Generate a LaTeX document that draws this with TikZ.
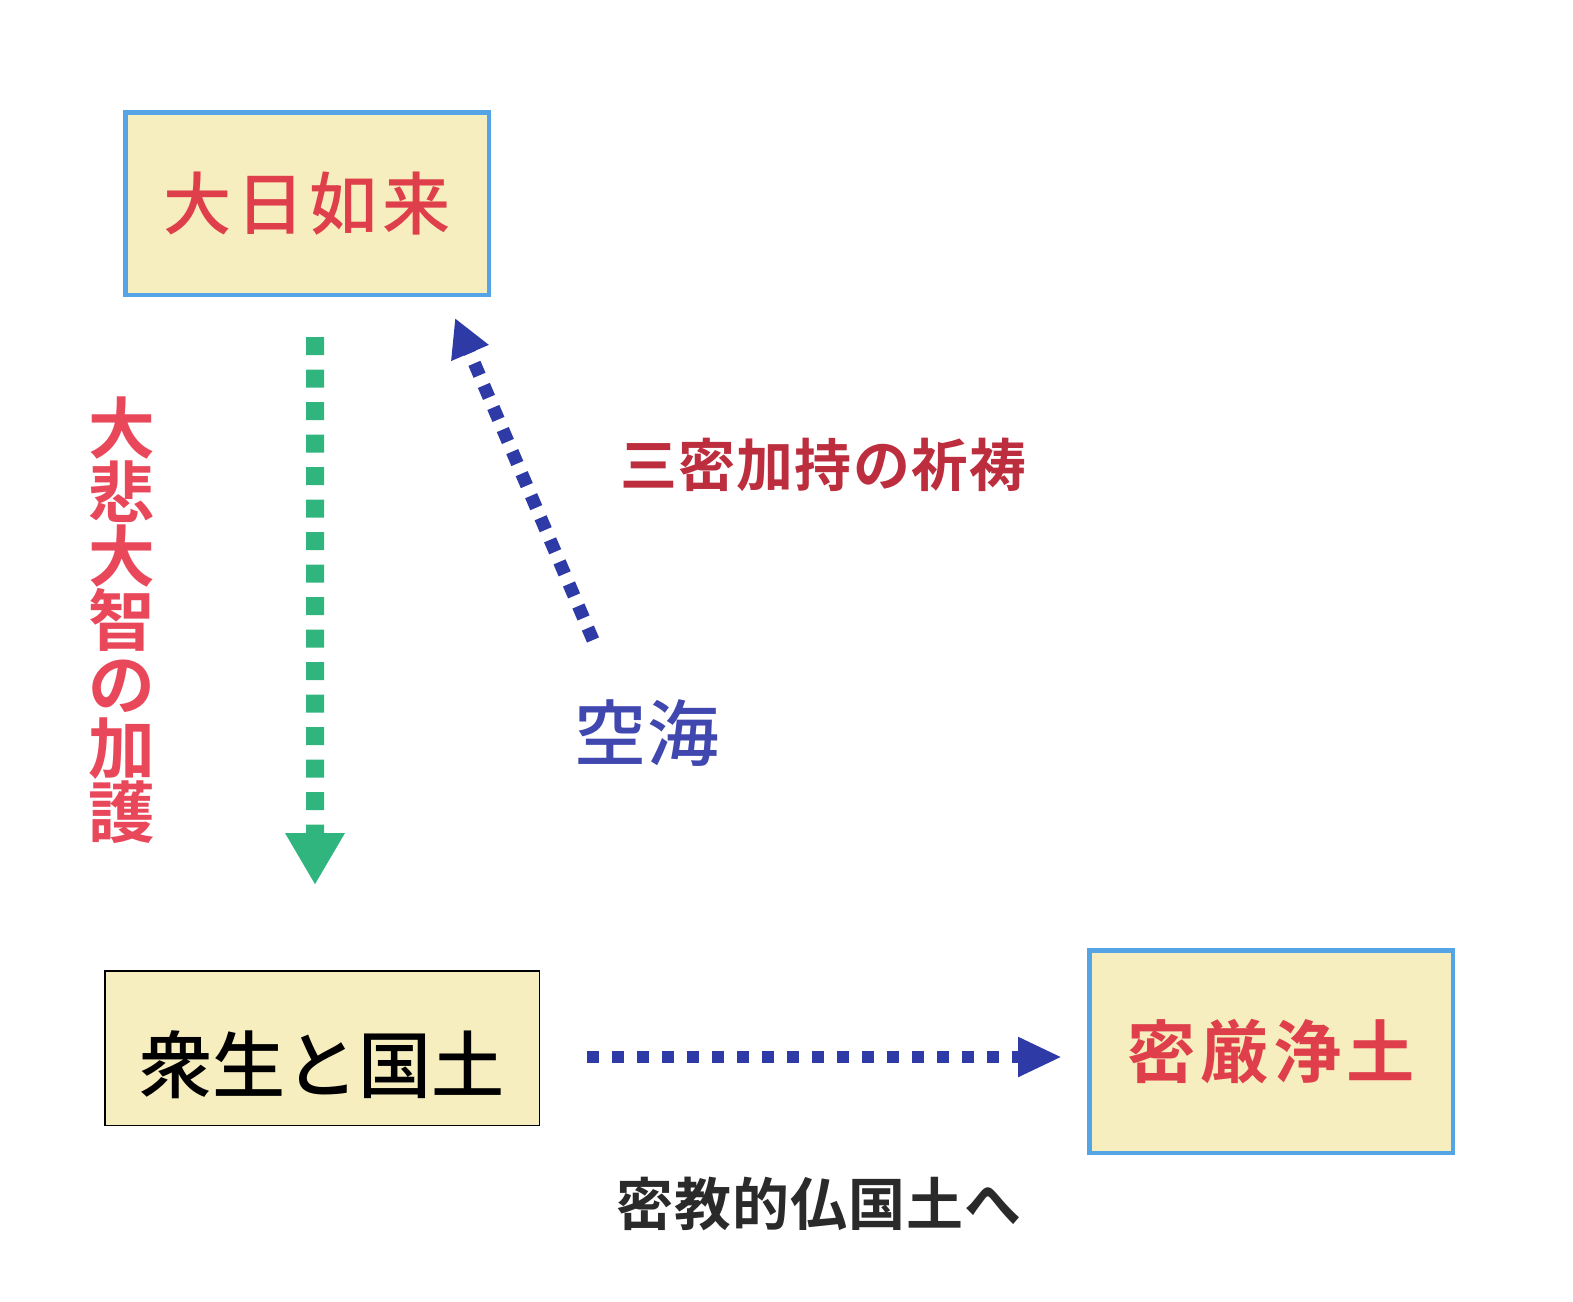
\documentclass[tikz,border=0pt]{standalone}
\usepackage{fontspec}
\newfontfamily\jpfont{Noto Sans CJK JP Medium}[BoldFont={Noto Sans CJK JP Bold}]
\usepackage{xcolor}
\usetikzlibrary{arrows.meta}

\definecolor{cardfill}{HTML}{F7EEBF}
\definecolor{skyline}{HTML}{55A5E6}
\definecolor{rosered}{HTML}{DF3F4B}
\definecolor{pinkred}{HTML}{E9485A}
\definecolor{winered}{HTML}{BC2D3E}
\definecolor{jadegreen}{HTML}{30B57F}
\definecolor{navyblue}{HTML}{2E3AA6}
\definecolor{kukaiblue}{HTML}{4048B0}
\definecolor{inkgray}{HTML}{2A2A2A}

\begin{document}
\begin{tikzpicture}[
    cardbox/.style={rectangle, fill=cardfill, draw=skyline, line width=0.45mm, inner sep=0pt},
    plainbox/.style={rectangle, fill=cardfill, draw=black, line width=0.15mm, inner sep=0pt},
    greenflow/.style={jadegreen, line width=0.18cm, dash pattern=on 0.18cm off 0.145cm, -{Triangle[width=0.56cm, length=0.52cm]}},
    blueflow/.style={navyblue, line width=0.13cm, dash pattern=on 0.13cm off 0.11cm, -{Triangle[width=0.38cm, length=0.38cm]}},
]
    \useasboundingbox (0,0) rectangle (15.73,-13.01);

    % ===== boxes =====
    \node[cardbox, minimum width=3.635cm, minimum height=1.825cm, text=rosered,
          font=\jpfont\fontsize{19.4}{23}\selectfont\addfontfeature{LetterSpace=7}] (dainichi) at (3.07,-2.035) {大日如来};
    \node[plainbox, minimum width=4.345cm, minimum height=1.545cm, text=black,
          font=\jpfont\fontsize{20.8}{25}\selectfont, text height=0.92cm, text depth=0.04cm] (shujo) at (3.22,-10.48) {衆生と国土};
    \node[cardbox, minimum width=3.635cm, minimum height=2.025cm, text=rosered,
          font=\jpfont\bfseries\fontsize{19.4}{23}\selectfont\addfontfeature{LetterSpace=7}] (mitsugon) at (12.71,-10.515) {密厳浄土};

    % ===== labels =====
    \node[text=pinkred, align=center, inner sep=0pt,
          font=\jpfont\bfseries\fontsize{19}{18.2}\selectfont] (kago) at (1.22,-6.2) {大\\悲\\大\\智\\の\\加\\護};
    \node[text=winered, font=\jpfont\bfseries\fontsize{16.2}{19}\selectfont\addfontfeature{LetterSpace=2}] (kito) at (8.235,-4.65) {三密加持の祈祷};
    \node[text=kukaiblue, font=\jpfont\fontsize{20.5}{24}\selectfont] (kukai) at (6.47,-7.33) {空海};
    \node[text=inkgray, font=\jpfont\bfseries\fontsize{16.2}{19}\selectfont\addfontfeature{LetterSpace=2}] (bukkokudo) at (8.19,-12.04) {密教的仏国土へ};

    % ===== connectors =====
    \draw[greenflow] ([xshift=0.08cm, yshift=-0.40cm]dainichi.south) -- ([xshift=-0.07cm, yshift=0.85cm]shujo.north);
    \draw[blueflow] ([xshift=-0.54cm, yshift=0.93cm]kukai.center) -- ([xshift=-0.36cm, yshift=-0.21cm]dainichi.south east);
    \draw[blueflow, line width=0.12cm, dash pattern=on 0.12cm off 0.13cm, -{Triangle[width=0.37cm, length=0.44cm]}]
        ([xshift=0.47cm, yshift=-0.09cm]shujo.east) -- ([xshift=-0.25cm, yshift=-0.055cm]mitsugon.west);

\end{tikzpicture}
\end{document}
